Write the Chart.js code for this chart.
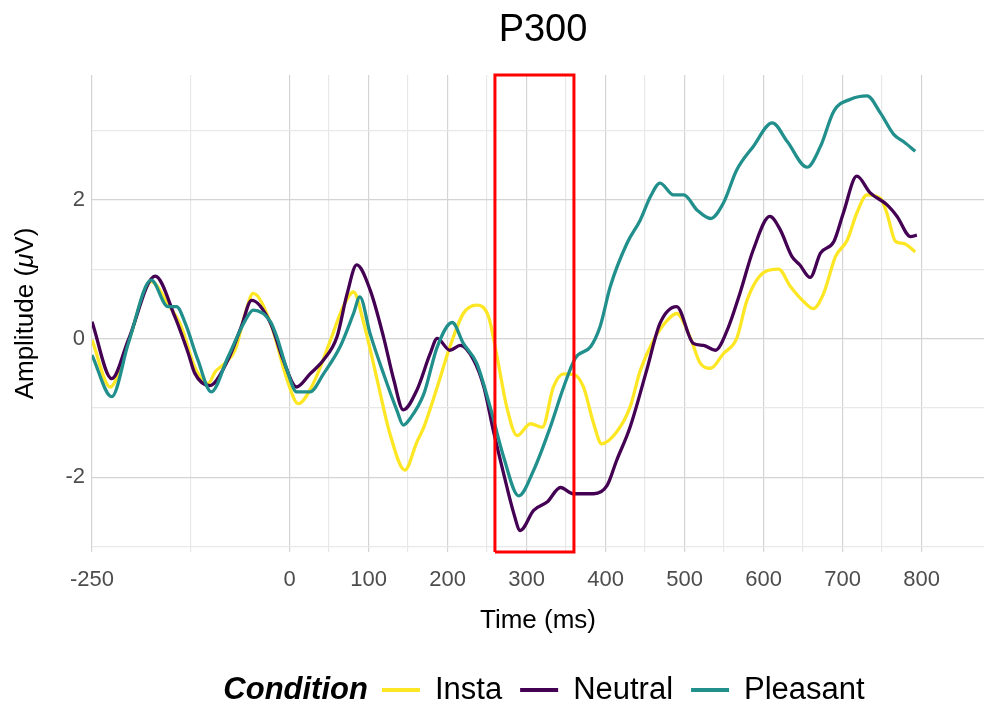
<!DOCTYPE html>
<html>
<head>
<meta charset="utf-8">
<title>P300</title>
<script src="https://cdn.jsdelivr.net/npm/chart.js@4.4.1/dist/chart.umd.min.js"></script>
<style>
  html, body { margin: 0; padding: 0; background: #fff; }
  #wrap { position: relative; width: 984px; height: 707px; }
</style>
</head>
<body>
<div id="wrap"><canvas id="erpChart" width="984" height="707"></canvas></div>
<script>
// waveforms: time (ms) and amplitude (µV) per condition
var instaTime = [-250, -227, -204, -175, -154, -137, -120, -103, -94, -82, -69, -56, -46, -24, -3, 11, 30, 52, 68, 81, 94, 111, 127, 146, 161, 170, 187, 203, 220, 237, 252, 262, 275, 288, 305, 320, 334, 347, 360, 372, 385, 395, 414, 431, 444, 461, 478, 490, 507, 520, 533, 549, 566, 579, 600, 619, 634, 651, 663, 676, 691, 706, 718, 731, 748, 756, 767, 777, 792];
var instaAmp = [-0.02, -0.70, -0.05, 0.82, 0.50, 0.17, -0.41, -0.65, -0.48, -0.36, -0.17, 0.36, 0.65, 0.22, -0.60, -0.94, -0.65, -0.02, 0.46, 0.67, 0.22, -0.60, -1.37, -1.90, -1.50, -1.28, -0.70, -0.12, 0.36, 0.48, 0.31, -0.22, -0.99, -1.40, -1.23, -1.28, -0.70, -0.51, -0.52, -0.70, -1.23, -1.52, -1.35, -0.99, -0.46, -0.02, 0.26, 0.36, 0.02, -0.36, -0.43, -0.22, 0.0, 0.55, 0.95, 1.00, 0.75, 0.53, 0.43, 0.65, 1.18, 1.42, 1.81, 2.07, 2.02, 1.81, 1.40, 1.37, 1.25];

var neutralTime = [-250, -225, -204, -170, -145, -128, -120, -101, -78, -61, -48, -24, -8, 9, 26, 43, 60, 73, 85, 102, 119, 132, 144, 161, 178, 187, 203, 216, 233, 246, 258, 271, 284, 292, 309, 326, 343, 359, 385, 402, 414, 431, 452, 469, 490, 511, 524, 539, 554, 570, 587, 608, 621, 636, 646, 659, 672, 689, 701, 718, 735, 756, 769, 786, 794];
var neutralAmp = [0.24, -0.58, -0.02, 0.90, 0.31, -0.22, -0.50, -0.68, -0.31, 0.17, 0.55, 0.22, -0.31, -0.70, -0.51, -0.31, 0.02, 0.65, 1.06, 0.70, 0.02, -0.60, -1.03, -0.75, -0.22, 0.0, -0.17, -0.10, -0.31, -0.70, -1.33, -1.95, -2.53, -2.77, -2.48, -2.36, -2.15, -2.24, -2.24, -2.12, -1.76, -1.28, -0.46, 0.22, 0.46, -0.07, -0.10, -0.17, 0.12, 0.65, 1.28, 1.76, 1.57, 1.18, 1.06, 0.88, 1.23, 1.40, 1.81, 2.34, 2.10, 1.93, 1.76, 1.47, 1.49];

var pleasantTime = [-250, -225, -204, -175, -154, -143, -132, -116, -99, -78, -56, -46, -24, -16, -3, 9, 26, 43, 64, 81, 89, 102, 119, 136, 144, 153, 170, 187, 206, 220, 237, 254, 271, 290, 309, 330, 347, 362, 381, 393, 406, 427, 444, 457, 469, 486, 499, 516, 533, 549, 566, 587, 611, 630, 655, 672, 689, 710, 731, 748, 765, 777, 792];
var pleasantAmp = [-0.24, -0.84, -0.07, 0.84, 0.46, 0.46, 0.22, -0.31, -0.77, -0.27, 0.26, 0.41, 0.24, 0.02, -0.46, -0.77, -0.77, -0.51, -0.12, 0.36, 0.60, 0.07, -0.51, -1.04, -1.25, -1.15, -0.80, -0.12, 0.23, -0.07, -0.36, -0.99, -1.71, -2.27, -1.90, -1.28, -0.70, -0.28, -0.12, 0.17, 0.75, 1.37, 1.71, 2.05, 2.24, 2.07, 2.07, 1.85, 1.73, 1.95, 2.43, 2.77, 3.11, 2.84, 2.47, 2.77, 3.28, 3.45, 3.50, 3.25, 2.94, 2.84, 2.70];

// axis breaks
var xMajor = [-250, 0, 100, 200, 300, 400, 500, 600, 700, 800];
var xMinor = [-125, 50, 150, 250, 350, 450, 550, 650, 750];
var yMajor = [-2, 0, 2];
var yMinor = [-3, -1, 1, 3];

// P300 window (ms)
var windowStart = 260;
var windowEnd = 360;

var xMin = -250, xMax = 879, yMin = -3.08, yMax = 3.8;

var conditions = ["Insta", "Neutral", "Pleasant"];
var colors = ["#FDE725", "#440154", "#21908C"];

function toPoints(times, amps) {
  return times.map(function (t, i) {
    return { x: t, y: amps[i] };
  });
}

var FONT = "'Liberation Sans', Arial, sans-serif";

// title, y axis title (italic mu) and the bottom legend
var outerText = {
  id: "outerText",
  afterDraw: function (chart) {
    var ctx = chart.ctx;
    var area = chart.chartArea;
    var midX = (area.left + area.right) / 2;
    ctx.save();
    ctx.fillStyle = "#000";
    ctx.textBaseline = "middle";

    // title
    ctx.textAlign = "center";
    ctx.font = "38px " + FONT;
    ctx.fillText("P300", midX + 5, 31);

    // y axis title
    var parts = [["Amplitude (", "26px " + FONT], ["\u03BC", "italic 26px " + FONT], ["V)", "26px " + FONT]];
    var total = 0;
    parts.forEach(function (p) { ctx.font = p[1]; total += ctx.measureText(p[0]).width; });
    ctx.translate(26, (area.top + area.bottom) / 2);
    ctx.rotate(-Math.PI / 2);
    ctx.textAlign = "left";
    var px = -total / 2;
    parts.forEach(function (p) {
      ctx.font = p[1];
      ctx.fillText(p[0], px, 0);
      px += ctx.measureText(p[0]).width;
    });
    ctx.setTransform(1, 0, 0, 1, 0, 0);

    // legend
    var ly = 690;
    var keyLen = 38, keyGap = 15, itemGap = 18, titleGap = 14;
    ctx.font = "italic bold 31px " + FONT;
    var w = ctx.measureText("Condition").width + titleGap;
    ctx.font = "31px " + FONT;
    conditions.forEach(function (c, i) {
      w += keyLen + keyGap + ctx.measureText(c).width;
      if (i < conditions.length - 1) w += itemGap;
    });
    var lx = midX + 6 - w / 2;
    ctx.textAlign = "left";
    ctx.font = "italic bold 31px " + FONT;
    ctx.fillText("Condition", lx, ly);
    lx += ctx.measureText("Condition").width + titleGap;
    ctx.font = "31px " + FONT;
    conditions.forEach(function (c, i) {
      ctx.strokeStyle = colors[i];
      ctx.lineWidth = 4;
      ctx.beginPath();
      ctx.moveTo(lx, ly);
      ctx.lineTo(lx + keyLen, ly);
      ctx.stroke();
      lx += keyLen + keyGap;
      ctx.fillText(c, lx, ly);
      lx += ctx.measureText(c).width + itemGap;
    });
    ctx.restore();
  }
};

var ctx = document.getElementById("erpChart").getContext("2d");
var erpChart = new Chart(ctx, {
  type: "line",
  data: {
    datasets: [
      {
        label: "P300 window",
        data: [
          { x: windowStart, y: yMin }, { x: windowStart, y: yMax },
          { x: windowEnd, y: yMax }, { x: windowEnd, y: yMin },
          { x: windowStart, y: yMin }
        ],
        borderColor: "#FF0000",
        borderWidth: 3,
        tension: 0,
        pointRadius: 0,
        order: 0,
        clip: 4
      },
      {
        label: "Pleasant",
        data: toPoints(pleasantTime, pleasantAmp),
        borderColor: colors[2],
        order: 1
      },
      {
        label: "Neutral",
        data: toPoints(neutralTime, neutralAmp),
        borderColor: colors[1],
        order: 2
      },
      {
        label: "Insta",
        data: toPoints(instaTime, instaAmp),
        borderColor: colors[0],
        order: 3
      }
    ]
  },
  options: {
    responsive: false,
    animation: false,
    events: [],
    layout: { padding: { top: 75, right: 0, bottom: 0, left: 0 } },
    elements: {
      line: { borderWidth: 3.3, cubicInterpolationMode: "monotone", fill: false },
      point: { radius: 0 }
    },
    plugins: {
      legend: { display: false },
      title: { display: false },
      tooltip: { enabled: false }
    },
    scales: {
      x: {
        type: "linear",
        min: xMin,
        max: xMax,
        afterBuildTicks: function (scale) {
          scale.ticks = xMajor.concat(xMinor).sort(function (a, b) { return a - b; })
            .map(function (v) { return { value: v }; });
        },
        afterFit: function (scale) { scale.height = 155; },
        grid: {
          drawTicks: false,
          lineWidth: 1.2,
          color: function (c) {
            return c.tick && xMajor.indexOf(c.tick.value) >= 0 ? "#d4d4d4" : "#e8e8e8";
          }
        },
        border: { display: false },
        ticks: {
          autoSkip: false,
          maxRotation: 0,
          padding: 15,
          color: "#4d4d4d",
          font: { family: FONT, size: 22 },
          callback: function (v) { return xMajor.indexOf(v) >= 0 ? String(v) : ""; }
        },
        title: {
          display: true,
          text: "Time (ms)",
          color: "#000",
          font: { family: FONT, size: 26 },
          padding: { top: 0, bottom: 71 }
        }
      },
      y: {
        type: "linear",
        min: yMin,
        max: yMax,
        afterBuildTicks: function (scale) {
          scale.ticks = yMinor.concat(yMajor).sort(function (a, b) { return a - b; })
            .map(function (v) { return { value: v }; });
        },
        afterFit: function (scale) { scale.width = 92; },
        grid: {
          drawTicks: false,
          lineWidth: 1.2,
          color: function (c) {
            return c.tick && yMajor.indexOf(c.tick.value) >= 0 ? "#d4d4d4" : "#e8e8e8";
          }
        },
        border: { display: false },
        ticks: {
          autoSkip: false,
          padding: 7,
          color: "#4d4d4d",
          font: { family: FONT, size: 22 },
          callback: function (v) { return yMajor.indexOf(v) >= 0 ? String(v) : ""; }
        }
      }
    }
  },
  plugins: [outerText]
});
</script>
</body>
</html>
